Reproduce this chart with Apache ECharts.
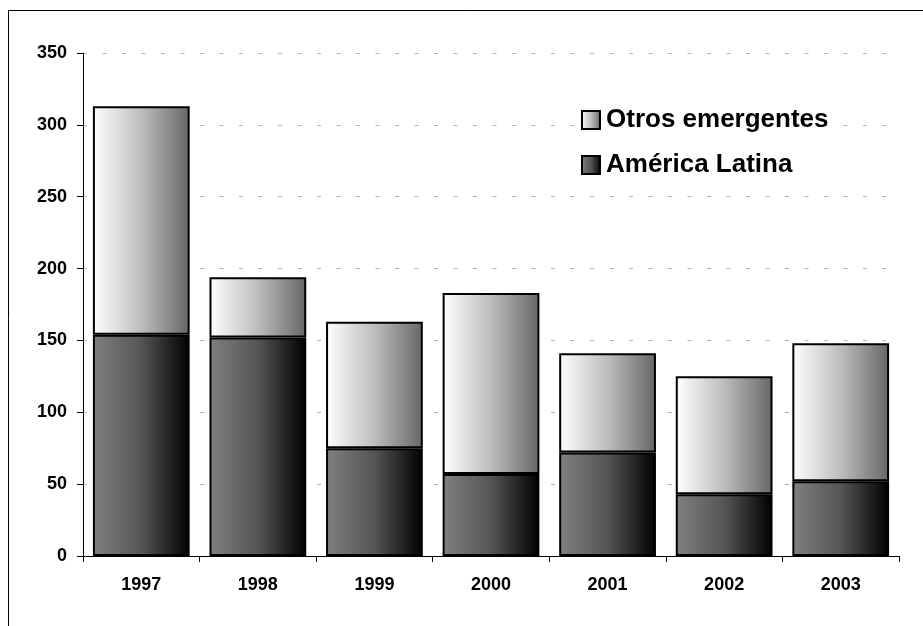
<!DOCTYPE html>
<html>
<head>
<meta charset="utf-8">
<script src="https://cdn.jsdelivr.net/npm/echarts@6/dist/echarts.min.js"></script>
<style>
html,body{margin:0;padding:0;background:#fff;}
#chart{width:923px;height:626px;}
</style>
</head>
<body>
<div id="chart"></div>
<script>
const categories = ['1997','1998','1999','2000','2001','2002','2003'];
const americaLatina = [154, 152, 75, 57, 72, 43, 52];
const otrosEmergentes = [159, 42, 88, 126, 69, 82, 96];
const yTicks = [0, 50, 100, 150, 200, 250, 300, 350];

const chart = echarts.init(document.getElementById('chart'), null, {renderer: 'canvas'});
const font = 'Liberation Sans, Arial, sans-serif';

const lowerGrad = new echarts.graphic.LinearGradient(0, 0, 1, 0, [
  {offset: 0, color: '#808080'},
  {offset: 0.5, color: '#555555'},
  {offset: 1, color: '#000000'}
]);
const upperGrad = new echarts.graphic.LinearGradient(0, 0, 1, 0, [
  {offset: 0, color: '#ffffff'},
  {offset: 0.5, color: '#bdbdbd'},
  {offset: 1, color: '#666666'}
]);

chart.setOption({
  animation: false,
  backgroundColor: '#ffffff',
  graphic: [{
    type: 'rect',
    shape: {x: 8.5, y: 10.5, width: 1000, height: 1000},
    style: {fill: 'none', stroke: '#000', lineWidth: 1},
    silent: true
  }],
  grid: {left: 83, right: 24, top: 53, bottom: 70},
  legend: {
    orient: 'vertical',
    left: 576,
    top: 102,
    icon: 'rect',
    itemWidth: 18,
    itemHeight: 18,
    itemGap: 19,
    data: ['Otros emergentes', 'América Latina'],
    textStyle: {fontFamily: font, fontWeight: 'bold', fontSize: 26, color: '#000', lineHeight: 26, padding: [0,0,0,1]}
  },
  xAxis: {
    type: 'category',
    data: categories,
    axisLine: {lineStyle: {color: '#000', width: 1}},
    axisTick: {show: true, length: 6, lineStyle: {color: '#000'}},
    axisLabel: {fontFamily: font, fontWeight: 'bold', fontSize: 18, color: '#000', margin: 20}
  },
  yAxis: {
    type: 'value',
    min: 0,
    max: 350,
    interval: 50,
    axisLine: {show: true, lineStyle: {color: '#000', width: 1}},
    axisTick: {show: true, length: 6, lineStyle: {color: '#000'}},
    axisLabel: {fontFamily: font, fontWeight: 'bold', fontSize: 18, color: '#000', margin: 16,
      formatter: v => yTicks.includes(v) ? String(v) : ''},
    splitLine: {show: true, lineStyle: {color: '#b4b4b4', type: [4, 15.5], width: 1}}
  },
  series: [
    {
      name: 'América Latina',
      type: 'bar',
      stack: 'total',
      barCategoryGap: '17%',
      data: americaLatina,
      itemStyle: {color: lowerGrad, borderColor: '#000', borderWidth: 2}
    },
    {
      name: 'Otros emergentes',
      type: 'bar',
      stack: 'total',
      barCategoryGap: '17%',
      data: otrosEmergentes,
      itemStyle: {color: upperGrad, borderColor: '#000', borderWidth: 2}
    }
  ]
});
</script>
</body>
</html>
